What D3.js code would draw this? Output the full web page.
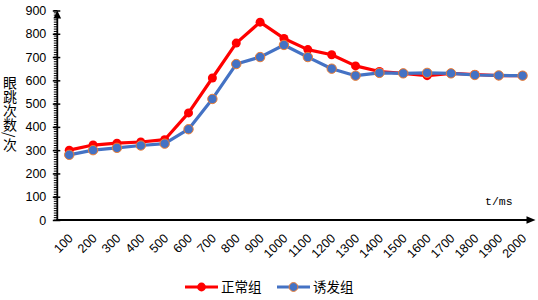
<!DOCTYPE html>
<html><head><meta charset="utf-8">
<script src="https://cdn.jsdelivr.net/npm/d3@7"></script>
<style>body{margin:0;background:#fff}svg{display:block}</style>
</head><body>
<svg id="c" width="538" height="300"></svg>
<script>
const categories = ["100","200","300","400","500","600","700","800","900","1000","1100","1200","1300","1400","1500","1600","1700","1800","1900","2000"];
const normalGroup = [300,322,330,335,345,460,610,760,850,780,732,710,662,638,630,620,630,625,620,620];
const inducedGroup = [280,300,310,320,328,390,520,670,700,752,700,650,620,632,630,632,630,623,621,620];
const yTicks = [0,100,200,300,400,500,600,700,800,900];
const seriesNames = ["正常组","诱发组"];
const yTitle = "眼跳次数/次";
const xTitle = "t/ms";

(function(){
const svg = d3.select("#c");
const pl = 57.3, pr = 534.5, pb = 220, pt = 10.5;
const x = d3.scalePoint().domain(categories).range([pl, pr]).padding(0.5);
const y = d3.scaleLinear().domain([0, 900]).range([pb, pt]);

// Y axis minor ticks
const minor = d3.range(0, 901, 10);
svg.append("g").selectAll("line").data(minor).join("line")
  .attr("x1", pl - 3.5).attr("x2", pl).attr("y1", d => y(d)).attr("y2", d => y(d))
  .attr("stroke", "#000").attr("stroke-width", 1);
// Y axis major ticks + labels
const yAxis = d3.axisLeft(y).tickValues(yTicks).tickSize(4.5).tickPadding(6);
const gy = svg.append("g").attr("transform", `translate(${pl},0)`).call(yAxis);
gy.select(".domain").remove();
gy.selectAll(".tick line").attr("stroke", "#000").attr("stroke-width", 1.5).attr("x2", -4.5).attr("x1", 3);
gy.selectAll(".tick text").attr("font-family", "'Liberation Sans', Arial, sans-serif")
  .attr("font-size", "12.5px").attr("fill", "#000").attr("x", -11);

// Axis lines with arrows
svg.append("line").attr("x1", pl).attr("x2", pl).attr("y1", pb + 1).attr("y2", pt + 5)
  .attr("stroke", "#000").attr("stroke-width", 1.8);
svg.append("path").attr("d", `M${pl},${pt} L${pl-3.8},${pt+8} L${pl+3.8},${pt+8} Z`).attr("fill", "#000");
svg.append("line").attr("x1", pl - 1).attr("x2", pr - 4).attr("y1", pb).attr("y2", pb)
  .attr("stroke", "#000").attr("stroke-width", 1.8);
svg.append("path").attr("d", `M${pr+1},${pb} L${pr-8},${pb-3.8} L${pr-8},${pb+3.8} Z`).attr("fill", "#000");

// X tick labels
const xAxis = d3.axisBottom(x).tickSize(0).tickPadding(0);
const gx = svg.append("g").attr("transform", `translate(0,${pb})`).call(xAxis);
gx.select(".domain").remove();
gx.selectAll(".tick text")
  .attr("font-family", "'Liberation Sans', Arial, sans-serif").attr("font-size", "12.5px").attr("fill", "#000")
  .attr("text-anchor", "end").attr("dy", "0")
  .attr("transform", "translate(4,19) rotate(-45)").attr("y", 0);

// Axis titles
svg.append("text").attr("x", 485).attr("y", 205).text(xTitle)
  .attr("font-family", "'Liberation Mono', 'DejaVu Sans Mono', monospace").attr("font-size", "11.5px").attr("fill", "#000");
svg.append("text").attr("x", 10).attr("y", 76).text(yTitle)
  .attr("font-family", "'Noto Sans CJK SC', sans-serif").attr("font-size", "14px").attr("fill", "#000")
  .style("writing-mode", "vertical-rl");

// Series
const line = d3.line().x((d, i) => x(categories[i])).y(d => y(d));
svg.append("path").datum(normalGroup).attr("d", line).attr("fill", "none")
  .attr("stroke", "#FF0000").attr("stroke-width", 3.2).attr("stroke-linejoin", "round");
svg.append("g").selectAll("circle").data(normalGroup).join("circle")
  .attr("cx", (d, i) => x(categories[i])).attr("cy", d => y(d)).attr("r", 4.5).attr("fill", "#FF0000");
svg.append("path").datum(inducedGroup).attr("d", line).attr("fill", "none")
  .attr("stroke", "#4472C4").attr("stroke-width", 3.2).attr("stroke-linejoin", "round");
svg.append("g").selectAll("circle").data(inducedGroup).join("circle")
  .attr("cx", (d, i) => x(categories[i])).attr("cy", d => y(d)).attr("r", 4.7)
  .attr("fill", "#4472C4").attr("stroke", "#ED7D31").attr("stroke-width", 1);

// Legend
const legend = [
  {name: seriesNames[0], x0: 185, color: "#FF0000", stroke: null},
  {name: seriesNames[1], x0: 277, color: "#4472C4", stroke: "#ED7D31"}
];
const ly = 287;
legend.forEach(l => {
  svg.append("line").attr("x1", l.x0).attr("x2", l.x0 + 33).attr("y1", ly).attr("y2", ly)
    .attr("stroke", l.color).attr("stroke-width", 3.2);
  svg.append("circle").attr("cx", l.x0 + 16.5).attr("cy", ly).attr("r", 4.4).attr("fill", l.color)
    .attr("stroke", l.stroke || "none").attr("stroke-width", 1);
  svg.append("text").attr("x", l.x0 + 36).attr("y", ly).attr("dy", "0.36em").text(l.name)
    .attr("font-family", "'Noto Sans CJK SC', sans-serif").attr("font-size", "13.5px").attr("fill", "#000");
});
})();
</script>
</body></html>
